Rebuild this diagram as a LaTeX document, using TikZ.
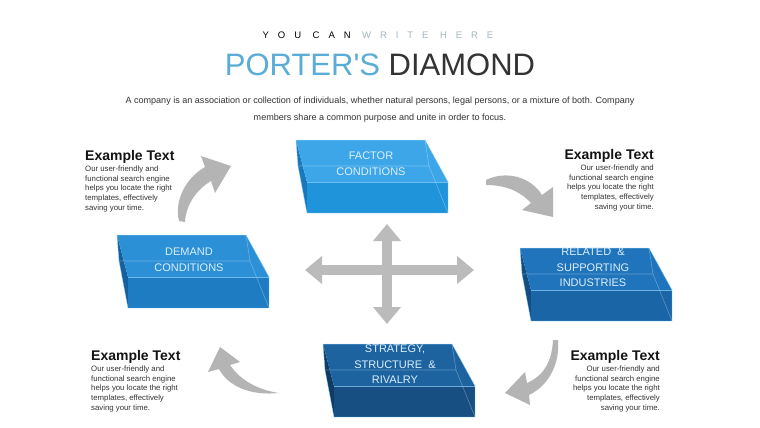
\documentclass[tikz,border=0pt]{standalone}
\usepackage{fontspec}
\setmainfont{Liberation Sans}
\usetikzlibrary{arrows.meta,positioning}

\definecolor{titleblue}{HTML}{5AADD6}
\definecolor{titledark}{HTML}{333333}
\definecolor{subgray}{HTML}{A3B6C0}
\definecolor{crossgray}{HTML}{BBBBBB}
\definecolor{arrowgray}{HTML}{B4B4B4}
\definecolor{boxfont}{HTML}{DDEFFC}
\definecolor{rimblue}{HTML}{8FD3FA}
\definecolor{factortop}{HTML}{3DA6E8}
\definecolor{factorfront}{HTML}{2094DA}
\definecolor{factorside}{HTML}{1878BC}
\definecolor{demandtop}{HTML}{2B90D6}
\definecolor{demandfront}{HTML}{1E7CC2}
\definecolor{demandside}{HTML}{15609E}
\definecolor{relatedtop}{HTML}{2074BB}
\definecolor{relatedfront}{HTML}{1A65A6}
\definecolor{relatedside}{HTML}{134D82}
\definecolor{strategytop}{HTML}{1C63A0}
\definecolor{strategyfront}{HTML}{174F83}
\definecolor{strategyside}{HTML}{103B64}

% see-through box: #1,#2 back top-left corner, #3 colour prefix
\newcommand{\porterbox}[3]{%
  \fill[#3side] (#1,#2) -- (#1+11,#2+42) -- (#1+11,#2+73) -- (#1+2,#2+26) -- cycle;
  \fill[#3front] (#1+11,#2+42) rectangle (#1+152,#2+73);
  \fill[#3top] (#1,#2) -- (#1+129,#2) -- (#1+152,#2+42) -- (#1+11,#2+42) -- cycle;
  \draw[seam] (#1+2,#2+26) -- (#1+133,#2+26) -- (#1+152,#2+73);
  \draw[seam] (#1+129,#2) -- (#1+133,#2+26);
  \draw[rim] (#1+11,#2+42) -- (#1+152,#2+42);
  \draw[rim] (#1,#2) -- (#1+129,#2) -- (#1+152,#2+42) -- (#1+152,#2+73)
    -- (#1+11,#2+73) -- (#1+2,#2+26) -- cycle;
}

\begin{document}
\begin{tikzpicture}[x=1pt,y=-1pt,
  boxtext/.style={text=boxfont,font=\fontsize{11}{15.5}\selectfont,align=center,inner sep=0pt,anchor=north},
  exhead/.style={font=\fontsize{14}{16}\selectfont\bfseries,text=black!92,inner sep=0pt},
  exbody/.style={font=\fontsize{7.8}{9.7}\selectfont,text=black!80,inner sep=0pt},
  desc/.style={font=\fontsize{9.05}{11}\selectfont,text=titledark,inner sep=0pt,anchor=base},
  crossarrow/.style={draw=crossgray,line width=10pt,{Triangle[width=27pt,length=17pt]}-{Triangle[width=27pt,length=17pt]}},
  curvearrow/.style={fill=arrowgray},
  seam/.style={draw=white,opacity=.3,line width=.6pt},
  rim/.style={draw=rimblue,opacity=.7,line width=.5pt}]
\fill[white] (0,0) rectangle (760,428);
\useasboundingbox (0,0) rectangle (760,428);

% title
\node[inner sep=0pt,anchor=base,font=\fontsize{9.5}{11}\selectfont\addfontfeatures{LetterSpace=94}] (sub) at (378,39)
  {YOU CAN \textcolor{subgray}{WRITE HERE}};
\node[inner sep=0pt,anchor=base,font=\fontsize{31}{34}\selectfont] (title) at (380,75)
  {\textcolor{titleblue}{PORTER\textquotesingle S} \textcolor{titledark}{DIAMOND}};
\node[desc] (desc1) at (380,103) {A company is an association or collection of individuals, whether natural persons, legal persons, or a mixture of both. Company};
\node[desc] (desc2) at (380,120) {members share a common purpose and unite in order to focus.};

% boxes
\porterbox{296}{140}{factor}
\porterbox{117}{235}{demand}
\porterbox{520}{248}{related}
\porterbox{323}{344}{strategy}
\node[boxtext] (factor) at (371,152) {FACTOR\\CONDITIONS};
\node[boxtext] (demand) at (189,248) {DEMAND\\CONDITIONS};
\node[boxtext] (related) at (593,248) {RELATED \ \&\\SUPPORTING\\INDUSTRIES};
\node[boxtext] (strategy) at (395,345) {STRATEGY,\\STRUCTURE \ \&\\RIVALRY};

% cross
\coordinate (crossW) at (305,270);
\coordinate (crossE) at (474,270);
\coordinate (crossN) at (387,224);
\coordinate (crossS) at (387,324);
\draw[crossarrow] (crossW) -- (crossE);
\draw[crossarrow] (crossN) -- (crossS);

% curved arrows
\fill[curvearrow] (179,221) .. controls (174,200) and (186,178) .. (205,167) -- (201,156) -- (231,166)
  -- (215,193) -- (211,181) .. controls (196,190) and (186,205) .. (185,222) -- cycle;
\fill[curvearrow] (486,180) .. controls (506,170) and (531,177) .. (542,195) -- (553,187) -- (553,217)
  -- (522,210) -- (531,203) .. controls (520,191) and (505,185) .. (486,185) -- cycle;
\fill[curvearrow] (219,369) .. controls (228,386) and (250,396) .. (279,393)
  .. controls (258,390) and (240,380) .. (230,365) -- (240,362) -- (220,347) -- (208,372) -- cycle;
\fill[curvearrow] (553,340) .. controls (552,360) and (545,375) .. (527,383) -- (525,372) -- (505,393)
  -- (530,405) -- (529,395) .. controls (550,385) and (560,362) .. (558,340) -- cycle;

% example texts
\node[exhead,anchor=base west] (headTL) at (85,160) {Example Text};
\node[exbody,anchor=north west,align=left] (bodyTL) at ([yshift=-2.4pt]headTL.south west)
  {Our user-friendly and\\functional search engine\\helps you locate the right\\templates, effectively\\saving your time.};
\node[exhead,anchor=base east] (headTR) at (654,159) {Example Text};
\node[exbody,anchor=north east,align=right] (bodyTR) at ([yshift=-2.4pt]headTR.south east)
  {Our user-friendly and\\functional search engine\\helps you locate the right\\templates, effectively\\saving your time.};
\node[exhead,anchor=base west] (headBL) at (91,360) {Example Text};
\node[exbody,anchor=north west,align=left] (bodyBL) at ([yshift=-2.4pt]headBL.south west)
  {Our user-friendly and\\functional search engine\\helps you locate the right\\templates, effectively\\saving your time.};
\node[exhead,anchor=base east] (headBR) at (660,360) {Example Text};
\node[exbody,anchor=north east,align=right] (bodyBR) at ([yshift=-2.4pt]headBR.south east)
  {Our user-friendly and\\functional search engine\\helps you locate the right\\templates, effectively\\saving your time.};
\end{tikzpicture}
\end{document}
